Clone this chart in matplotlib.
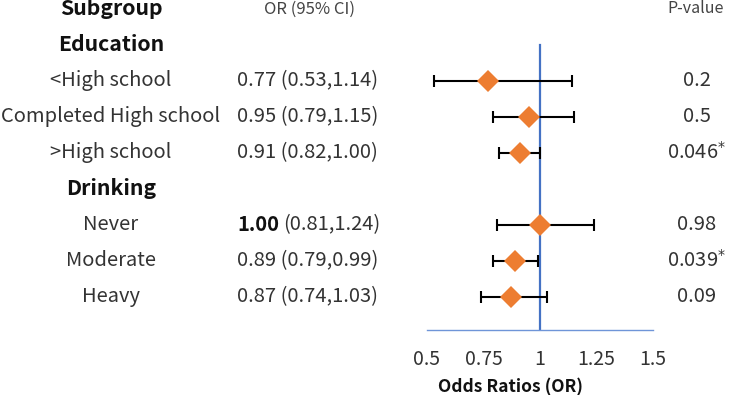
import matplotlib.pyplot as plt
import matplotlib.transforms as mtransforms

plt.rcParams['font.family'] = ['Noto Sans CJK SC', 'DejaVu Sans']

# Data
groups = ['Education', 'Drinking']
labels = ['<High school', 'Completed High school', '>High school',
          'Never', 'Moderate', 'Heavy']
group_of = [0, 0, 0, 1, 1, 1]
odds = [0.77, 0.95, 0.91, 1.00, 0.89, 0.87]
lower = [0.53, 0.79, 0.82, 0.81, 0.79, 0.74]
upper = [1.14, 1.15, 1.00, 1.24, 0.99, 1.03]
pvals = ['0.2', '0.5', '0.046', '0.98', '0.039', '0.09']
signif = [False, False, True, False, True, False]
xticks = [0.5, 0.75, 1, 1.25, 1.5]
xticklabels = ['0.5', '0.75', '1', '1.25', '1.5']

W, H = 729, 395
fig = plt.figure(figsize=(W / 100, H / 100), dpi=100)

# axes spans x 427..653 px, y 0..330 px from top
ax = fig.add_axes([427 / W, (H - 330) / H, 226 / W, 330 / H])
ax.set_xlim(0.5, 1.5)
ax.set_ylim(8.93, -0.25)

# row positions: header at 0, group header, then items
rows = []
group_rows = []
r = 1
for g in range(len(groups)):
    group_rows.append(r)
    r += 1
    for i in range(len(labels)):
        if group_of[i] == g:
            rows.append(r)
            r += 1

ax.plot([1, 1], [1.0, 8.93], color='#4472C4', lw=1.6, zorder=1)

for i in range(len(labels)):
    y = rows[i]
    ax.errorbar(odds[i], y, xerr=[[odds[i] - lower[i]], [upper[i] - odds[i]]],
                fmt='none', ecolor='black', elinewidth=1.5, capsize=4,
                capthick=1.5, zorder=2)
    ax.plot(odds[i], y, marker='D', markersize=11, color='#ED7D31',
            markeredgewidth=0, zorder=3)

for s in ['top', 'right', 'left']:
    ax.spines[s].set_visible(False)
ax.spines['bottom'].set_color('#6F95D8')
ax.spines['bottom'].set_linewidth(1.0)
ax.set_yticks([])
ax.set_xticks(xticks)
ax.set_xticklabels(xticklabels)
ax.tick_params(axis='x', length=0, pad=14, labelsize=14, labelcolor='#333333')

fig.text(511 / W, 1 - 387 / H, 'Odds Ratios (OR)', ha='center', va='center',
         fontsize=12.5, fontweight='bold', color='#111111')

# text columns (figure x, data y)
trans = mtransforms.blended_transform_factory(fig.transFigure, ax.transData)
txt = '#333333'
fs = 14.5

fig.text(111 / W, 0, 'Subgroup', transform=trans, ha='center', va='center',
         fontsize=15.3, fontweight='bold', color='#111111')
fig.text(310 / W, 0, 'OR (95% CI)', transform=trans, ha='center', va='center',
         fontsize=12, color='#444444')
fig.text(696 / W, 0, 'P-value', transform=trans, ha='center', va='center',
         fontsize=11.5, color='#444444')

for g in range(len(groups)):
    fig.text(111 / W, group_rows[g], groups[g], transform=trans, ha='center',
             va='center', fontsize=15.3, fontweight='bold', color='#111111')

for i in range(len(labels)):
    y = rows[i]
    fig.text(111 / W, y, labels[i], transform=trans, ha='center', va='center',
             fontsize=fs, color=txt)
    ci = f'({lower[i]:.2f},{upper[i]:.2f})'
    if odds[i] == 1.0:
        t = fig.text(237 / W, y, f'{odds[i]:.2f}', transform=trans, ha='left',
                     va='center', fontsize=fs, fontweight='bold', color='#111111')
        fig.canvas.draw()
        bb = t.get_window_extent()
        fig.text((bb.x1 + 4) / W, y, ci, transform=trans, ha='left',
                 va='center', fontsize=fs, color=txt)
    else:
        fig.text(237 / W, y, f'{odds[i]:.2f} {ci}', transform=trans, ha='left',
                 va='center', fontsize=fs, color=txt)
    p = pvals[i] + ('$^{*}$' if signif[i] else '')
    fig.text(697 / W, y, p, transform=trans, ha='center', va='center',
             fontsize=fs, color=txt)

fig.savefig('out.png', dpi=100)
